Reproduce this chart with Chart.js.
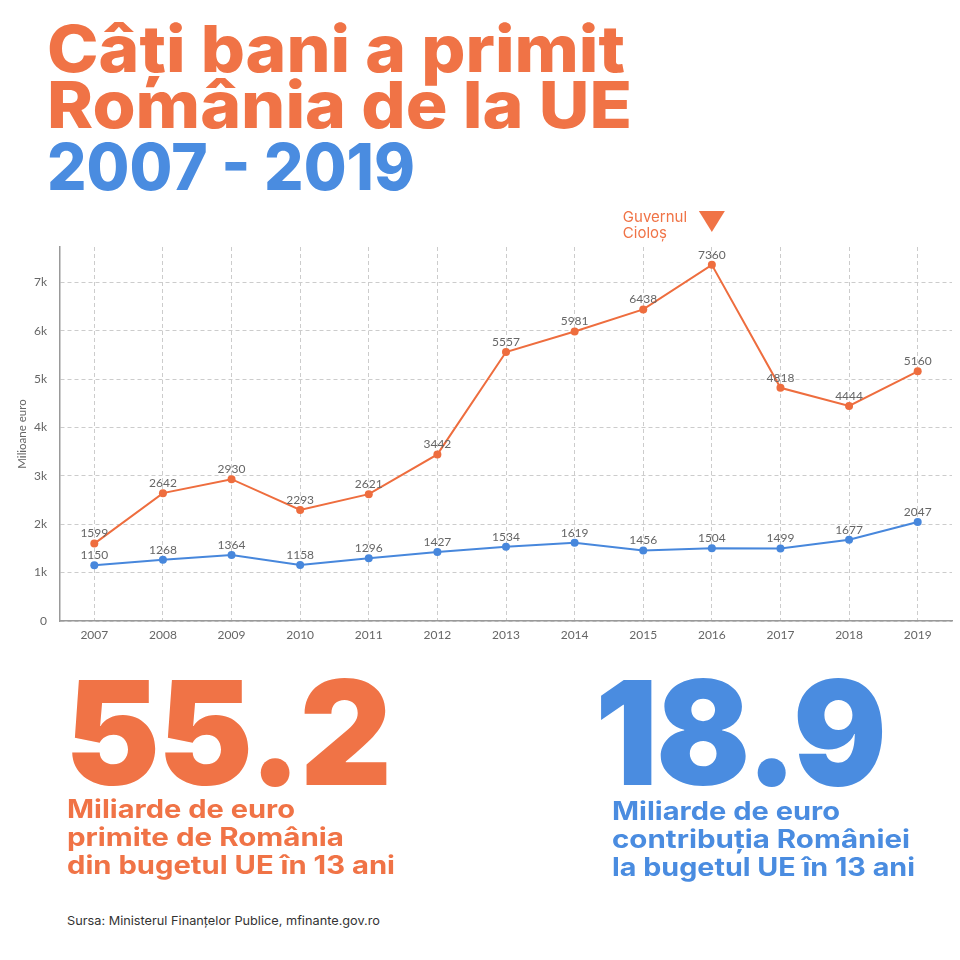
<!DOCTYPE html>
<html>
<head>
<meta charset="utf-8">
<title>Câți bani a primit România de la UE</title>
<script src="https://cdn.jsdelivr.net/npm/chart.js@4"></script>
<style>
  html, body { margin: 0; padding: 0; background: #fff; }
  #page { position: relative; width: 960px; height: 960px; overflow: hidden; font-family: Inter, "Open Sans", sans-serif; }
  .t { position: absolute; white-space: nowrap; transform-origin: 0 0; }
  .title { font-weight: 800; font-size: 65px; line-height: 65px; }
  .big { font-weight: 900; font-size: 145px; line-height: 145px; letter-spacing: -2px; }
  .sub { font-weight: 700; font-size: 25px; line-height: 28px; }
  .orange { color: #f07346; }
  .blue { color: #4a8ce0; }
  #src { font-size: 12px; line-height: 14px; color: #333; }
  #chartBox { position: absolute; left: 0; top: 200px; width: 960px; height: 450px; }
</style>
</head>
<body>
<div id="page">
  <div class="t title orange" data-w="578" style="left:47px; top:16px;">Câți bani a primit</div>
  <div class="t title orange" data-w="585" style="left:47px; top:72px;">România de la UE</div>
  <div class="t title blue" data-w="368" style="left:47px; top:134px;">2007 - 2019</div>

  <div id="chartBox"><canvas id="chart"></canvas></div>

  <div class="t big orange" data-w="325" style="left:65px; top:660px;">55.2</div>
  <div class="t big blue" data-w="290" style="left:595px; top:660px;">18.9</div>

  <div class="t sub orange" data-w="228" style="left:67px; top:795px;">Miliarde de euro</div>
  <div class="t sub orange" data-w="277" style="left:67px; top:823px;">primite de România</div>
  <div class="t sub orange" data-w="328" style="left:67px; top:851px;">din bugetul UE în 13 ani</div>

  <div class="t sub blue" data-w="228" style="left:612px; top:797px;">Miliarde de euro</div>
  <div class="t sub blue" data-w="298" style="left:612px; top:825px;">contribuția României</div>
  <div class="t sub blue" data-w="303" style="left:612px; top:853px;">la bugetul UE în 13 ani</div>

  <div class="t" id="src" data-w="313" style="left:67px; top:914px;">Sursa: Ministerul Finanțelor Publice, mfinante.gov.ro</div>
</div>

<script>
// date (milioane euro)
const years = ['2007', '2008', '2009', '2010', '2011', '2012', '2013', '2014', '2015', '2016', '2017', '2018', '2019'];
const received = [1599, 2642, 2930, 2293, 2621, 3442, 5557, 5981, 6438, 7360, 4818, 4444, 5160];
const contributed = [1150, 1268, 1364, 1158, 1296, 1427, 1534, 1619, 1456, 1504, 1499, 1677, 2047];
const yTickValues = [0, 1000, 2000, 3000, 4000, 5000, 6000, 7000];
const yTickLabels = ['0', '1k', '2k', '3k', '4k', '5k', '6k', '7k'];
const noteYear = '2016';
const noteLines = ['Guvernul', 'Cioloș'];

const ORANGE = '#ee6d3e';
const BLUE = '#4787dc';
const GREY = '#666';

// etichete cu valori deasupra punctelor
const valueLabels = {
    id: 'valueLabels',
    afterDatasetsDraw(chart) {
        const ctx = chart.ctx;
        ctx.save();
        ctx.font = '12px Lato, sans-serif';
        ctx.fillStyle = GREY;
        ctx.textAlign = 'center';
        ctx.textBaseline = 'middle';
        chart.data.datasets.forEach((ds, i) => {
            chart.getDatasetMeta(i).data.forEach((pt, j) => {
                ctx.fillText(String(ds.data[j]), pt.x, pt.y - 10);
            });
        });
        ctx.restore();
    }
};

// nota "Guvernul Cioloș" + triunghi
const govNote = {
    id: 'govNote',
    afterDraw(chart) {
        const ctx = chart.ctx;
        const x = chart.scales.x.getPixelForValue(years.indexOf(noteYear));
        ctx.save();
        ctx.fillStyle = '#f07346';
        ctx.beginPath();
        ctx.moveTo(x - 13, 11);
        ctx.lineTo(x + 13, 11);
        ctx.lineTo(x, 32);
        ctx.closePath();
        ctx.fill();
        ctx.font = '15px Inter, sans-serif';
        ctx.textAlign = 'left';
        ctx.textBaseline = 'middle';
        ctx.fillText(noteLines[0], x - 89, 17);
        ctx.fillText(noteLines[1], x - 89, 33);
        ctx.restore();
    }
};

const chart = new Chart(document.getElementById('chart'), {
    type: 'line',
    data: {
        labels: years,
        datasets: [{
            label: 'Primiți',
            data: received,
            borderColor: ORANGE,
            backgroundColor: ORANGE,
            borderWidth: 2,
            pointRadius: 4,
            pointBorderWidth: 0,
            tension: 0
        }, {
            label: 'Contribuție',
            data: contributed,
            borderColor: BLUE,
            backgroundColor: BLUE,
            borderWidth: 2,
            pointRadius: 4,
            pointBorderWidth: 0,
            tension: 0
        }]
    },
    options: {
        responsive: true,
        maintainAspectRatio: false,
        animation: false,
        layout: { padding: { top: 47, right: 8, left: 0, bottom: 0 } },
        plugins: {
            legend: { display: false },
            tooltip: { enabled: false }
        },
        scales: {
            x: {
                offset: true,
                grid: { offset: false, color: '#cccccc', drawTicks: false },
                border: { color: '#999', width: 1.5, dash: [4, 3] },
                ticks: { color: GREY, font: { family: 'Lato', size: 12 }, padding: 7, maxRotation: 0 },
                afterFit(scale) { scale.height = 29; }
            },
            y: {
                min: 0,
                max: 7728,
                grid: { color: '#cccccc', drawTicks: false },
                border: { color: '#999', width: 1.5, dash: [4, 3] },
                afterBuildTicks(scale) {
                    scale.ticks = yTickValues.map(v => ({ value: v }));
                },
                ticks: {
                    color: GREY,
                    font: { family: 'Lato', size: 12 },
                    padding: 13,
                    callback: v => yTickLabels[yTickValues.indexOf(v)]
                },
                title: {
                    display: true,
                    text: 'Milioane euro',
                    color: GREY,
                    font: { family: 'Lato', size: 11.5 },
                    padding: { top: 15, bottom: 0 }
                },
                afterFit(scale) { scale.width = 60; }
            }
        }
    },
    plugins: [valueLabels, govNote]
});

// ajustează lățimea textelor la machetă
function fitTexts() {
    document.querySelectorAll('.t[data-w]').forEach(el => {
        el.style.transform = 'none';
        const w = el.getBoundingClientRect().width;
        const target = parseFloat(el.dataset.w);
        if (w > 0) el.style.transform = 'scaleX(' + (target / w) + ')';
    });
}
fitTexts();
if (document.fonts && document.fonts.ready) {
    document.fonts.ready.then(() => { fitTexts(); chart.update(); });
}
</script>
</body>
</html>
